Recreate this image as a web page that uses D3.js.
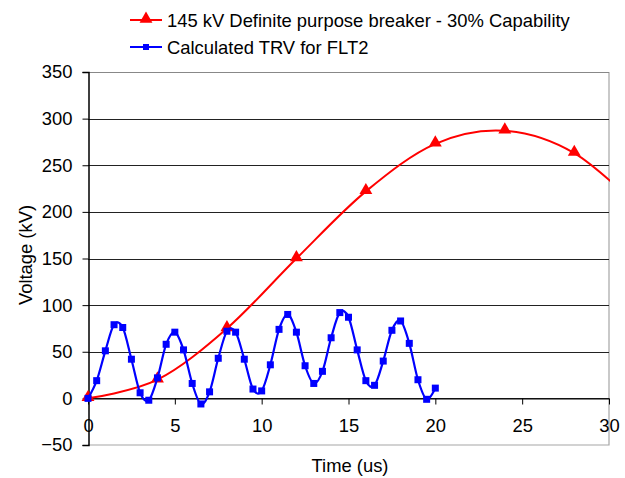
<!DOCTYPE html>
<html>
<head>
<meta charset="utf-8">
<script src="https://cdn.jsdelivr.net/npm/d3@7"></script>
<style>
  body { margin: 0; background: #fff; }
  svg { font-family: "Liberation Sans", Arial, sans-serif; }
</style>
</head>
<body>
<svg id="chart" width="625" height="478"></svg>
<script>
// breaker capability envelope (last point lies past the axis and is clipped)
var capTime = [0, 4, 8, 12, 16, 20, 24, 28, 32];
var capKv = [0, 20, 75, 150, 222, 273, 287, 263, 200];

// calculated TRV, sampled every 0.5 us
var trvTime = [0, 0.5, 1, 1.5, 2, 2.5, 3, 3.5, 4, 4.5, 5, 5.5, 6, 6.5, 7, 7.5, 8, 8.5, 9, 9.5,
  10, 10.5, 11, 11.5, 12, 12.5, 13, 13.5, 14, 14.5, 15, 15.5, 16, 16.5, 17, 17.5, 18, 18.5, 19, 19.5, 20];
var trvKv = [0, 19, 51, 79, 76, 42, 6, -2, 22, 58, 71, 52, 16, -6, 7, 43, 72, 71, 42, 10,
  8, 36, 74, 90, 71, 35, 16, 29, 65, 92, 87, 52, 19, 14, 40, 73, 83, 59, 20, -1, 11];

var xTicks = [0, 5, 10, 15, 20, 25, 30];
var yTicks = [-50, 0, 50, 100, 150, 200, 250, 300, 350];

var legendNames = ['145 kV Definite purpose breaker - 30% Capability', 'Calculated TRV for FLT2'];

(function() {
  var svg = d3.select('#chart');
  var plotLeft = 88, plotRight = 609, plotTop = 72, plotBottom = 445;
  var fontSize = 18.4;

  var x = d3.scaleLinear().domain([0, 30]).range([plotLeft, plotRight]);
  var y = d3.scaleLinear().domain([-50, 350]).range([plotBottom, plotTop]);

  // plot frame (right and bottom edges in gray)
  svg.append('path')
    .attr('d', 'M' + plotRight + ',' + plotTop + 'V' + plotBottom + 'H' + plotLeft)
    .attr('fill', 'none')
    .attr('stroke', '#a6a6a6')
    .attr('stroke-width', 1.2);

  // horizontal gridlines
  svg.append('g')
    .selectAll('line')
    .data(yTicks.filter(function(d) { return d !== -50; }))
    .join('line')
    .attr('x1', plotLeft)
    .attr('x2', plotRight)
    .attr('y1', function(d) { return Math.round(y(d)) + 0.5; })
    .attr('y2', function(d) { return Math.round(y(d)) + 0.5; })
    .attr('stroke', function(d) { return d === 350 ? '#888' : '#222'; })
    .attr('stroke-width', 1);

  // y axis
  var yAxis = svg.append('g')
    .attr('transform', 'translate(' + (plotLeft + 0.5) + ',0)')
    .call(d3.axisLeft(y).tickValues(yTicks).tickSize(6).tickPadding(10).tickFormat(d3.format('d')));
  yAxis.select('.domain').attr('stroke', '#000').attr('stroke-width', 1.5);
  yAxis.selectAll('text').attr('font-size', fontSize).attr('fill', '#000');
  yAxis.attr('font-family', null);

  // x axis along y = 0
  var xAxis = svg.append('g')
    .attr('transform', 'translate(0,' + (Math.round(y(0)) + 0.5) + ')')
    .call(d3.axisBottom(x).tickValues(xTicks).tickSize(6).tickPadding(14).tickSizeOuter(0));
  xAxis.select('.domain').attr('stroke', '#000');
  xAxis.selectAll('text').attr('font-size', fontSize).attr('fill', '#000');
  xAxis.attr('font-family', null);

  // axis titles
  svg.append('text')
    .attr('transform', 'translate(32,255) rotate(-90)')
    .attr('text-anchor', 'middle')
    .attr('font-size', fontSize)
    .text('Voltage (kV)');
  svg.append('text')
    .attr('x', 350)
    .attr('y', 472)
    .attr('text-anchor', 'middle')
    .attr('font-size', fontSize)
    .text('Time (us)');

  svg.append('clipPath').attr('id', 'plot-clip')
    .append('rect')
    .attr('x', plotLeft).attr('y', 0)
    .attr('width', plotRight - plotLeft + 1).attr('height', 478);

  var capData = capTime.map(function(t, i) { return [t, capKv[i]]; });
  var trvData = trvTime.map(function(t, i) { return [t, trvKv[i]]; });

  var line = d3.line()
    .x(function(d) { return x(d[0]); })
    .y(function(d) { return y(d[1]); })
    .curve(d3.curveCardinal.tension(0));

  var triangle = d3.symbol().type(d3.symbolTriangle).size(72);

  // capability curve
  svg.append('path')
    .datum(capData)
    .attr('clip-path', 'url(#plot-clip)')
    .attr('d', line)
    .attr('fill', 'none')
    .attr('stroke', '#ff0000')
    .attr('stroke-width', 2);

  svg.append('g')
    .selectAll('path')
    .data(capData.filter(function(d) { return d[0] <= 30; }))
    .join('path')
    .attr('transform', function(d) { return 'translate(' + x(d[0]) + ',' + (y(d[1]) - 1) + ')'; })
    .attr('d', triangle)
    .attr('fill', '#ff0000');

  // TRV curve
  svg.append('path')
    .datum(trvData)
    .attr('d', line)
    .attr('fill', 'none')
    .attr('stroke', '#0000ff')
    .attr('stroke-width', 2.2);

  svg.append('g')
    .selectAll('rect')
    .data(trvData)
    .join('rect')
    .attr('x', function(d) { return x(d[0]) - 3.5; })
    .attr('y', function(d) { return y(d[1]) - 3.5; })
    .attr('width', 7)
    .attr('height', 7)
    .attr('fill', '#0000ff');

  // legend
  var legend = svg.append('g');
  var legendColors = ['#ff0000', '#0000ff'];
  legendNames.forEach(function(name, i) {
    var ly = 20 + i * 27;
    legend.append('line')
      .attr('x1', 130).attr('x2', 162)
      .attr('y1', ly).attr('y2', ly)
      .attr('stroke', legendColors[i])
      .attr('stroke-width', 2);
    if (i === 0) {
      legend.append('path')
        .attr('transform', 'translate(146,' + (ly - 1) + ')')
        .attr('d', triangle)
        .attr('fill', legendColors[i]);
    } else {
      legend.append('rect')
        .attr('x', 143).attr('y', ly - 3)
        .attr('width', 6).attr('height', 6)
        .attr('fill', legendColors[i]);
    }
    legend.append('text')
      .attr('x', 167)
      .attr('y', ly + 6.5)
      .attr('font-size', fontSize)
      .text(name);
  });
})();
</script>
</body>
</html>
